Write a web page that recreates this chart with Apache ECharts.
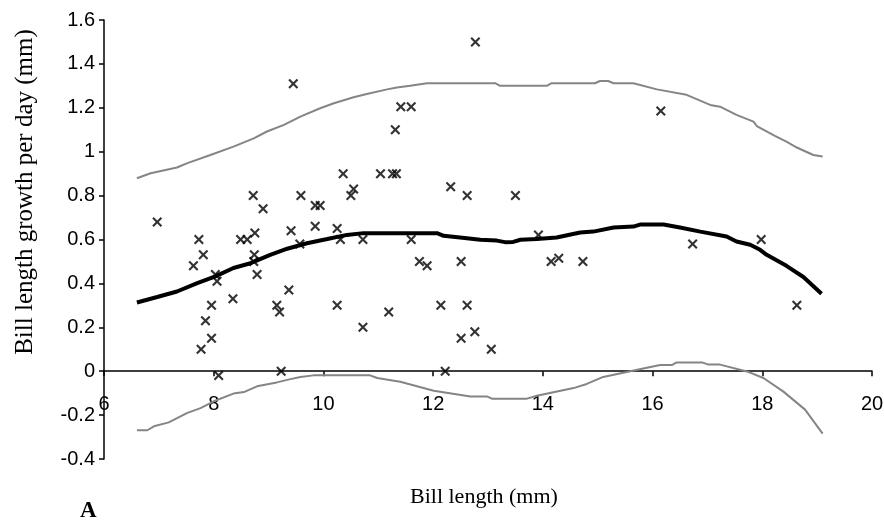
<!DOCTYPE html>
<html lang="en">
    <head>
        <title>Bill length growth</title>
        <meta charset="utf-8">
        <script src='https://cdn.jsdelivr.net/npm/echarts@6/dist/echarts.min.js'></script>
    </head>

    <style>
        html, body, #main {
            width: 100%;
            height: 100%;
            margin: 0;
            background: #fff;
        }
    </style>

    <body>
        <div id='main'></div>

        <script>
            // observed points: [bill length, growth per day]
            const points = [
                [6.97, 0.68], [7.63, 0.48], [7.73, 0.60], [7.81, 0.53], [7.77, 0.10], [7.85, 0.23],
                [7.96, 0.15], [7.96, 0.30], [8.03, 0.44], [8.06, 0.41], [8.09, -0.02], [8.35, 0.33],
                [8.49, 0.60], [8.61, 0.60], [8.72, 0.80], [8.75, 0.63], [8.74, 0.53], [8.73, 0.50],
                [8.79, 0.44], [8.90, 0.74], [9.15, 0.30], [9.20, 0.27], [9.23, 0.00], [9.37, 0.37],
                [9.41, 0.64], [9.45, 1.31], [9.57, 0.58], [9.59, 0.80], [9.85, 0.755], [9.94, 0.755],
                [9.85, 0.66], [10.25, 0.65], [10.31, 0.60], [10.25, 0.30], [10.36, 0.90], [10.50, 0.80],
                [10.55, 0.83], [10.72, 0.60], [10.72, 0.20], [11.04, 0.90], [11.19, 0.27], [11.26, 0.90],
                [11.33, 0.90], [11.31, 1.10], [11.41, 1.205], [11.60, 1.205], [11.60, 0.60], [11.75, 0.50],
                [11.89, 0.48], [12.14, 0.30], [12.22, 0.00], [12.32, 0.84], [12.51, 0.50], [12.51, 0.15],
                [12.62, 0.80], [12.62, 0.30], [12.76, 0.18], [12.77, 1.50], [13.06, 0.10], [13.50, 0.80],
                [13.92, 0.62], [14.15, 0.50], [14.29, 0.515], [14.73, 0.50], [16.15, 1.185], [16.73, 0.58],
                [17.98, 0.60], [18.63, 0.30]
            ];

            // fitted curve
            const fit = [
                [6.60, 0.313], [6.97, 0.338], [7.33, 0.363], [7.70, 0.401], [8.03, 0.432], [8.36, 0.47],
                [8.67, 0.492], [9.03, 0.53], [9.34, 0.558], [9.70, 0.583], [10.07, 0.602], [10.43, 0.621],
                [10.73, 0.629], [11.40, 0.629], [12.07, 0.629], [12.19, 0.617], [12.49, 0.609], [12.86, 0.599],
                [13.16, 0.595], [13.31, 0.588], [13.46, 0.589], [13.59, 0.599], [13.89, 0.602], [14.25, 0.609],
                [14.68, 0.632], [14.92, 0.636], [15.29, 0.655], [15.65, 0.659], [15.77, 0.668], [16.20, 0.668],
                [16.50, 0.655], [16.87, 0.636], [17.35, 0.614], [17.53, 0.591], [17.78, 0.576], [17.96, 0.553],
                [18.08, 0.530], [18.44, 0.48], [18.75, 0.429], [19.08, 0.353]
            ];

            // upper band
            const upper = [
                [6.60, 0.879], [6.85, 0.902], [7.33, 0.928], [7.52, 0.948], [7.94, 0.985], [8.36, 1.023],
                [8.73, 1.061], [8.97, 1.092], [9.28, 1.122], [9.58, 1.160], [9.94, 1.198], [10.19, 1.221],
                [10.55, 1.248], [10.79, 1.263], [11.16, 1.284], [11.34, 1.292], [11.58, 1.300], [11.89, 1.312],
                [13.13, 1.312], [13.22, 1.300], [14.07, 1.300], [14.16, 1.312], [14.95, 1.312], [15.04, 1.322],
                [15.19, 1.322], [15.29, 1.312], [15.65, 1.312], [16.08, 1.284], [16.62, 1.259], [17.05, 1.213],
                [17.23, 1.205], [17.53, 1.168], [17.84, 1.137], [17.90, 1.117], [18.23, 1.072], [18.44, 1.046],
                [18.63, 1.019], [18.93, 0.985], [19.10, 0.978]
            ];

            // lower band
            const lower = [
                [6.60, -0.269], [6.79, -0.269], [6.91, -0.251], [7.18, -0.233], [7.52, -0.190], [7.76, -0.168],
                [8.00, -0.137], [8.36, -0.102], [8.55, -0.095], [8.79, -0.069], [9.15, -0.051], [9.40, -0.036],
                [9.58, -0.026], [9.82, -0.019], [10.85, -0.019], [10.98, -0.031], [11.40, -0.048], [12.01, -0.089],
                [12.68, -0.115], [12.98, -0.115], [13.07, -0.125], [13.71, -0.125], [13.89, -0.112], [14.56, -0.077],
                [14.80, -0.058], [15.10, -0.026], [15.53, -0.004], [15.83, 0.012], [16.14, 0.028], [16.35, 0.028],
                [16.44, 0.04], [16.90, 0.04], [17.02, 0.03], [17.23, 0.03], [17.72, -0.001], [18.02, -0.031],
                [18.38, -0.092], [18.78, -0.175], [19.10, -0.284]
            ];

            const yMin = -0.4, yMax = 1.6;

            const chart = echarts.init(document.getElementById('main'));

            const gridTop = 20, gridBottom = 67;
            const plotH = 526 - gridTop - gridBottom;
            // lift the x axis from the bottom edge to y = 0
            const zeroLift = plotH * (0 - yMin) / (yMax - yMin);

            const crossMark = 'path://M0,1.5L1.5,0L5,3.5L8.5,0L10,1.5L6.5,5L10,8.5L8.5,10L5,6.5L1.5,10L0,8.5L3.5,5Z';
            const tickFont = { color: '#000', fontFamily: 'Liberation Sans', fontSize: 20 };

            const option = {
                animation: false,
                grid: { left: 104, right: 12, top: gridTop, bottom: gridBottom, outerBoundsMode: 'none', containLabel: false },
                graphic: [
                    {
                        type: 'text', x: 25, y: 192, rotation: Math.PI / 2,
                        style: { text: 'Bill length growth per day (mm)', fontFamily: 'Liberation Serif', fontSize: 25, fill: '#000', align: 'center', verticalAlign: 'middle' }
                    },
                    { type: 'text', left: 410, top: 486, style: { text: 'Bill length (mm)', fontFamily: 'Liberation Serif', fontSize: 22, fill: '#000' } },
                    { type: 'text', left: 80, top: 500, style: { text: 'A', fontFamily: 'Liberation Serif', fontSize: 23, fontWeight: 'bold', fill: '#000' } }
                ],
                xAxis: {
                    type: 'value',
                    min: 6,
                    max: 20,
                    interval: 2,
                    offset: -zeroLift,
                    splitLine: { show: false },
                    axisLine: { onZero: false, lineStyle: { color: '#000', width: 1.5 } },
                    axisTick: { show: true, length: 5, lineStyle: { color: '#000', width: 1.5 } },
                    axisLabel: Object.assign({ margin: 23 }, tickFont)
                },
                yAxis: {
                    type: 'value',
                    min: yMin,
                    max: yMax,
                    interval: 0.2,
                    splitLine: { show: false },
                    axisLine: { show: true, lineStyle: { color: '#000', width: 1.5 } },
                    axisTick: { show: true, length: 5, lineStyle: { color: '#000', width: 1.5 } },
                    axisLabel: Object.assign({ margin: 9 }, tickFont)
                },
                series: [
                    {
                        type: 'line',
                        data: upper,
                        symbol: 'none',
                        lineStyle: { color: '#858585', width: 2 },
                        z: 2
                    },
                    {
                        type: 'line',
                        data: lower,
                        symbol: 'none',
                        lineStyle: { color: '#858585', width: 2 },
                        z: 2
                    },
                    {
                        type: 'line',
                        data: fit,
                        symbol: 'none',
                        lineStyle: { color: '#000', width: 4 },
                        z: 3
                    },
                    {
                        type: 'scatter',
                        data: points,
                        symbol: crossMark,
                        symbolSize: 10,
                        itemStyle: { color: '#000' },
                        z: 4
                    }
                ]
            };

            chart.setOption(option);

            window.onresize = function () {
                chart.resize();
            }
        </script>
    </body>
</html>
